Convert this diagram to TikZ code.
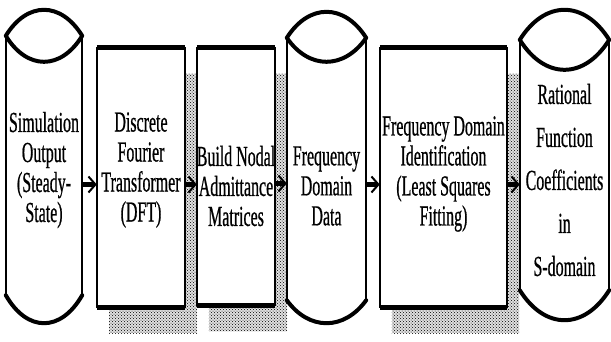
\documentclass[tikz,border=0pt]{standalone}
\usepackage{fontspec}
\setmainfont[FakeStretch=0.55, FakeBold=0.6]{Liberation Serif}
\usetikzlibrary{arrows.meta,patterns,backgrounds,calc}

% drum-shaped stage drawn around the body node #1:
% #2 rise of the top lid, #3 dip of the lid's lower rim, #4 bulge of the base
\newcommand\drumshape[4]{%
  \fill[white] let \p1=(#1.north west), \p2=(#1.south east) in
    (\x1,\y1) .. controls ({\x1+0.28*(\x2-\x1)},{\y1+4/3*#2}) and ({\x2-0.28*(\x2-\x1)},{\y1+4/3*#2}) .. (\x2,\y1)
    -- (\x2,\y2) .. controls ({\x2-0.28*(\x2-\x1)},{\y2-4/3*#4}) and ({\x1+0.28*(\x2-\x1)},{\y2-4/3*#4}) .. (\x1,\y2)
    -- cycle;
  \draw[line width=1.6pt] (#1.north west) -- (#1.south west) (#1.north east) -- (#1.south east);
  \draw[lid] let \p1=(#1.north west), \p2=(#1.south east) in
    (\x1,\y1) .. controls ({\x1+0.28*(\x2-\x1)},{\y1+4/3*#2}) and ({\x2-0.28*(\x2-\x1)},{\y1+4/3*#2}) .. (\x2,\y1)
    (\x1,\y1) .. controls ({\x1+0.28*(\x2-\x1)},{\y1-4/3*#3}) and ({\x2-0.28*(\x2-\x1)},{\y1-4/3*#3}) .. (\x2,\y1)
    (\x1,\y2) .. controls ({\x1+0.28*(\x2-\x1)},{\y2-4/3*#4}) and ({\x2-0.28*(\x2-\x1)},{\y2-4/3*#4}) .. (\x2,\y2);
}

% rectangular stage with heavy top and bottom rules and a stippled drop shadow
\newcommand\boxshape[1]{%
  \fill[black!12] ([shift={(12,26)}]#1.south west) rectangle ([shift={(12,26)}]#1.north east);
  \fill[shade] ([shift={(12,26)}]#1.south west) rectangle ([shift={(12,26)}]#1.north east);
  \draw[line width=2pt, fill=white] (#1.south west) rectangle (#1.north east);
  \draw[line width=5pt] (#1.north west) -- (#1.north east) (#1.south west) -- (#1.south east);
}

\begin{document}
\begin{tikzpicture}[x=1pt, y=-1pt,
  body/.style={inner sep=0pt},
  stage/.style={inner sep=0pt, align=center, font=\fontsize{29}{30}\selectfont},
  lid/.style={line width=4pt, line cap=round, line join=round},
  shade/.style={pattern=crosshatch dots, pattern color=black},
  flow/.style={line width=4.5pt, -{Straight Barb[length=7pt, width=16pt, line width=2pt]}}]
\useasboundingbox (0,0) rectangle (611,341);

% stage outlines (geometry only)
\node[body, minimum width=76pt, minimum height=259pt] (sim) at (44,165.5) {};
\node[body, minimum width=88pt, minimum height=259pt] (dft) at (141,177.5) {};
\node[body, minimum width=78pt, minimum height=257pt] (nodal) at (236,176.5) {};
\node[body, minimum width=79pt, minimum height=262pt] (fdd) at (326.5,169) {};
\node[body, minimum width=127pt, minimum height=259pt] (fdi) at (443.5,177.5) {};
\node[body, minimum width=89pt, minimum height=250pt] (rfc) at (564.5,165) {};

% stage captions
\node[stage] (simtext) at (44,170) {Simulation\\Output\\(Steady-\\State)};
\node[stage] (dfttext) at (141,170) {Discrete\\Fourier\\Transformer\\(DFT)};
\node[stage] (nodaltext) at (236,186) {Build Nodal\\Admittance\\Matrices};
\node[stage] (fddtext) at (326.5,186) {Frequency\\Domain\\Data};
\node[stage] (fditext) at (443.5,174) {Frequency Domain\\Identification\\(Least Squares\\Fitting)};
\node[stage, font=\fontsize{29}{43}\selectfont] (rfctext) at (564.5,180) {Rational\\Function\\Coefficients\\in\\S-domain};

\begin{scope}[on background layer]
  \boxshape{dft}
  \boxshape{nodal}
  \boxshape{fdi}
  \drumshape{sim}{26pt}{26pt}{28pt}
  \drumshape{fdd}{26pt}{24pt}{23pt}
  \drumshape{rfc}{30pt}{30pt}{30pt}
\end{scope}

\draw[flow] ([yshift=-7pt]sim.east |- dft.west) -- ([yshift=-7pt]dft.west);
\draw[flow] ([yshift=-7pt]dft.east) -- ([yshift=-7pt]dft.east -| nodal.west);
\draw[flow] ([yshift=-7pt]nodal.east) -- ([yshift=-7pt]nodal.east -| fdd.west);
\draw[flow] ([yshift=-7pt]fdd.east |- fdi.west) -- ([yshift=-7pt]fdi.west);
\draw[flow] ([yshift=-7pt]fdi.east) -- ([yshift=-7pt]fdi.east -| rfc.west);
\end{tikzpicture}
\end{document}
